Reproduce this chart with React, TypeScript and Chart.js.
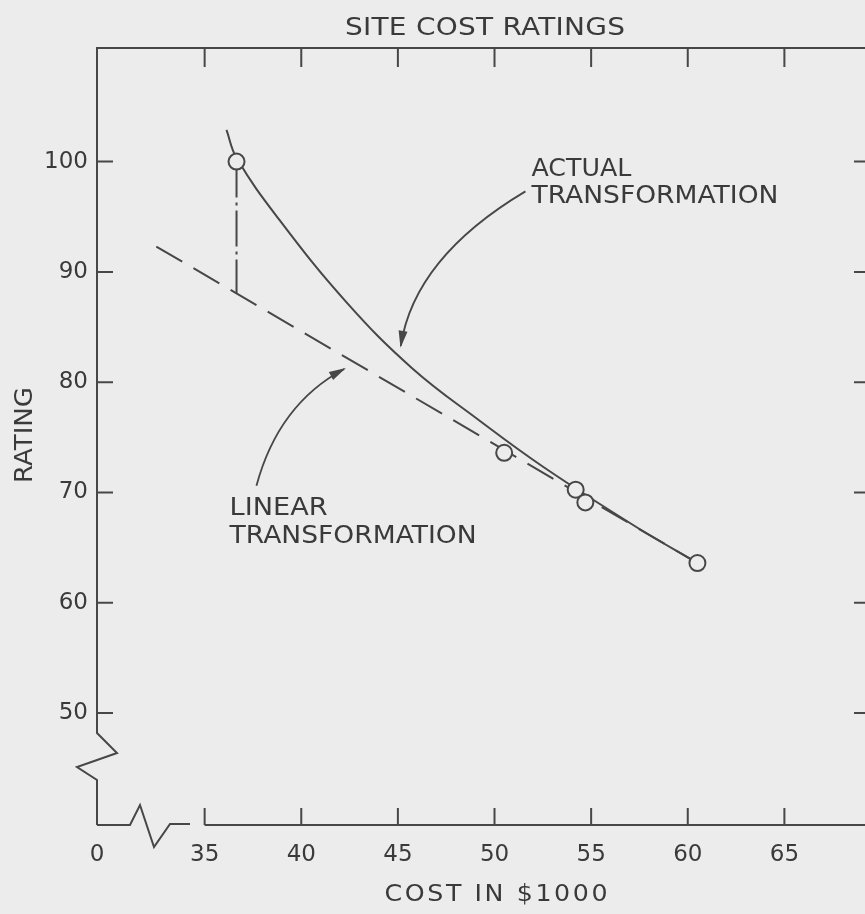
import React, { useEffect, useRef } from "react";
import { Chart, registerables } from "chart.js";

Chart.register(...registerables);

// ---- text ----
const TITLE = "SITE COST RATINGS";
const X_TITLE = "COST IN $1000";
const Y_TITLE = "RATING";

// ---- axes ----
const X_TICKS = [35, 40, 45, 50, 55, 60, 65];
const X_BREAK_LABEL = "0";
const Y_TICKS = [50, 60, 70, 80, 90, 100];
const X_MIN = 29.43;
const X_MAX = 69.43;
const Y_MIN = 39.85;
const Y_MAX = 110.3;

// ---- data (cost in $1000, rating) ----
const siteCosts = [36.65, 50.5, 54.2, 54.7, 60.5];
const siteRatings = [100, 73.6, 70.25, 69.1, 63.6];

const actualCosts = [36.13, 36.65, 38.87, 42.32, 45.72, 49.18, 52.53, 57.42, 60.52];
const actualRatings = [102.87, 100.34, 94.71, 87.28, 81.29, 76.57, 72.31, 66.78, 63.6];

const linearCosts = [32.5, 60.5];
const linearRatings = [92.3, 63.6];

const dropCosts = [36.65, 36.65];
const dropRatings = [100, 88.05];

// ---- annotations (data coordinates) ----
const actualLabel = ["ACTUAL", "TRANSFORMATION"];
const actualLabelAt = [51.91, 98.7];
const linearLabel = ["LINEAR", "TRANSFORMATION"];
const linearLabelAt = [36.29, 67.96];
const actualArrow = [
  [51.6, 97.3],
  [45.85, 91.3],
  [45.15, 83.3],
];
const linearArrow = [
  [37.68, 70.6],
  [38.81, 78.0],
  [42.22, 81.2],
];

const BG = "#ececec";
const INK = "#474747";
const TEXT = "#3a3a3a";
const FONT = '"DejaVu Sans"';

const pts = (xs: number[], ys: number[]) => xs.map((x, i) => ({ x, y: ys[i] }));

function fitText(
  ctx: CanvasRenderingContext2D,
  text: string,
  x: number,
  baseline: number,
  size: number,
  width: number,
  align: "left" | "center",
  maxStretch = 1.12
) {
  const c = ctx as any;
  ctx.font = `${size}px ${FONT}`;
  c.letterSpacing = "0px";
  const natural = ctx.measureText(text).width;
  const sx = Math.min(width / natural, maxStretch);
  const rest = width - natural * sx;
  const ls = text.length > 1 ? rest / sx / (text.length - 1) : 0;
  c.letterSpacing = `${ls}px`;
  const left = align === "center" ? x - width / 2 : x;
  ctx.save();
  ctx.translate(left, baseline);
  ctx.scale(sx, 1);
  ctx.textAlign = "left";
  ctx.textBaseline = "alphabetic";
  ctx.fillText(text, 0, 0);
  ctx.restore();
  c.letterSpacing = "0px";
}

const decor = {
  id: "decor",
  beforeDraw(chart: any) {
    const { ctx, width, height } = chart;
    ctx.save();
    ctx.fillStyle = BG;
    ctx.fillRect(0, 0, width, height);
    ctx.restore();
  },
  beforeDatasetsDraw(chart: any) {
    const { ctx, chartArea: a, scales } = chart;
    const x = scales.x;
    const y = scales.y;
    ctx.save();
    ctx.strokeStyle = INK;
    ctx.lineWidth = 2;
    ctx.lineJoin = "miter";
    // left axis (with break), top, right
    ctx.beginPath();
    ctx.moveTo(a.left, a.bottom);
    ctx.lineTo(a.left, a.bottom - 45);
    ctx.lineTo(a.left - 20, a.bottom - 58);
    ctx.lineTo(a.left + 20, a.bottom - 72);
    ctx.lineTo(a.left, a.bottom - 92);
    ctx.lineTo(a.left, a.top);
    ctx.lineTo(a.right, a.top);
    ctx.lineTo(a.right, a.bottom);
    ctx.stroke();
    // bottom axis break
    ctx.beginPath();
    ctx.moveTo(a.left, a.bottom);
    ctx.lineTo(a.left + 33, a.bottom);
    ctx.lineTo(a.left + 43, a.bottom - 20);
    ctx.lineTo(a.left + 57, a.bottom + 22);
    ctx.lineTo(a.left + 73, a.bottom - 1);
    ctx.lineTo(a.left + 93, a.bottom - 1);
    ctx.stroke();
    const x0 = x.getPixelForValue(X_TICKS[0]);
    ctx.beginPath();
    ctx.moveTo(x0, a.bottom);
    ctx.lineTo(a.right, a.bottom);
    ctx.stroke();
    // inward ticks
    ctx.beginPath();
    X_TICKS.forEach((v) => {
      const px = x.getPixelForValue(v);
      ctx.moveTo(px, a.bottom);
      ctx.lineTo(px, a.bottom - 17);
      ctx.moveTo(px, a.top);
      ctx.lineTo(px, a.top + 19);
    });
    Y_TICKS.forEach((v) => {
      const py = y.getPixelForValue(v);
      ctx.moveTo(a.left, py);
      ctx.lineTo(a.left + 16, py);
      ctx.moveTo(a.right, py);
      ctx.lineTo(a.right - 16, py);
    });
    ctx.stroke();
    ctx.restore();
  },
  afterDraw(chart: any) {
    const { ctx, scales } = chart;
    const x = scales.x;
    const y = scales.y;
    const P = (p: number[]) => [x.getPixelForValue(p[0]), y.getPixelForValue(p[1])];
    ctx.save();
    // arrows
    const arrow = (pp: number[][]) => {
      const [s, c, e] = pp.map(P);
      ctx.strokeStyle = INK;
      ctx.fillStyle = INK;
      ctx.lineWidth = 1.8;
      ctx.beginPath();
      ctx.moveTo(s[0], s[1]);
      ctx.quadraticCurveTo(c[0], c[1], e[0], e[1]);
      ctx.stroke();
      const ang = Math.atan2(e[1] - c[1], e[0] - c[0]);
      const L = 15;
      const W = 4.5;
      ctx.beginPath();
      ctx.moveTo(e[0] + 2 * Math.cos(ang), e[1] + 2 * Math.sin(ang));
      ctx.lineTo(e[0] - L * Math.cos(ang) + W * Math.sin(ang), e[1] - L * Math.sin(ang) - W * Math.cos(ang));
      ctx.lineTo(e[0] - L * Math.cos(ang) - W * Math.sin(ang), e[1] - L * Math.sin(ang) + W * Math.cos(ang));
      ctx.closePath();
      ctx.fill();
    };
    arrow(actualArrow);
    arrow(linearArrow);
    // labels
    ctx.fillStyle = TEXT;
    const la = P(actualLabelAt);
    fitText(ctx, actualLabel[0], la[0], la[1], 25, 100, "left");
    fitText(ctx, actualLabel[1], la[0], la[1] + 27, 25, 247, "left");
    const ll = P(linearLabelAt);
    fitText(ctx, linearLabel[0], ll[0], ll[1], 25, 98, "left");
    fitText(ctx, linearLabel[1], ll[0], ll[1] + 28, 25, 247, "left");
    // titles
    fitText(ctx, TITLE, 485, 35, 25, 280, "center");
    fitText(ctx, X_TITLE, 496, 901, 23, 223, "center", 1.1);
    ctx.translate(32, 435);
    ctx.rotate(-Math.PI / 2);
    fitText(ctx, Y_TITLE, 0, 0, 25, 96, "center");
    ctx.restore();
  },
};

export default function App() {
  const ref = useRef<HTMLCanvasElement>(null);
  useEffect(() => {
    document.body.style.margin = "0";
    const canvas = ref.current!;
    const tickFont = { family: FONT, size: 23 };
    const chart = new Chart(canvas, {
      type: "line",
      data: {
        datasets: [
          {
            label: "Sites",
            data: pts(siteCosts, siteRatings),
            showLine: false,
            pointRadius: 8,
            pointBorderWidth: 2,
            pointBackgroundColor: BG,
            pointBorderColor: INK,
          } as any,
          {
            label: "Actual transformation",
            data: pts(actualCosts, actualRatings),
            borderColor: INK,
            borderWidth: 2,
            pointRadius: 0,
            tension: 0.4,
            fill: false,
          },
          {
            label: "Linear transformation",
            data: pts(linearCosts, linearRatings),
            borderColor: INK,
            borderWidth: 2,
            borderDash: [30, 13],
            pointRadius: 0,
            fill: false,
          },
          {
            label: "Drop",
            data: pts(dropCosts, dropRatings),
            borderColor: INK,
            borderWidth: 2,
            borderDash: [36, 5, 3, 5],
            pointRadius: 0,
            fill: false,
          },
        ],
      },
      options: {
        responsive: false,
        animation: false,
        devicePixelRatio: 1,
        layout: { padding: { top: 48, right: 7, bottom: 0, left: 0 } },
        plugins: {
          legend: { display: false },
          tooltip: { enabled: false },
          title: { display: false },
        },
        scales: {
          x: {
            type: "linear",
            min: X_MIN,
            max: X_MAX,
            grid: { display: false, drawTicks: false },
            border: { display: false },
            ticks: {
              font: tickFont,
              color: TEXT,
              padding: 16,
              autoSkip: false,
              maxRotation: 0,
              callback: (v: any) => (Math.abs(Number(v) - X_MIN) < 1e-6 ? X_BREAK_LABEL : String(v)),
            },
            afterBuildTicks: (s: any) => {
              s.ticks = [{ value: X_MIN }, ...X_TICKS.map((v) => ({ value: v }))];
            },
            afterFit: (s: any) => {
              s.height = 89;
            },
          },
          y: {
            type: "linear",
            min: Y_MIN,
            max: Y_MAX,
            grid: { display: false, drawTicks: false },
            border: { display: false },
            ticks: {
              font: tickFont,
              color: TEXT,
              padding: 9,
              autoSkip: false,
              callback: (v: any) => String(v),
            },
            afterBuildTicks: (s: any) => {
              s.ticks = Y_TICKS.map((v) => ({ value: v }));
            },
            afterFit: (s: any) => {
              s.width = 97;
            },
          },
        },
      },
      plugins: [decor],
    });
    return () => chart.destroy();
  }, []);
  return (
    <div style={{ width: 865, height: 914, overflow: "hidden", background: BG }}>
      <canvas ref={ref} width={880} height={914} style={{ display: "block" }} />
    </div>
  );
}
